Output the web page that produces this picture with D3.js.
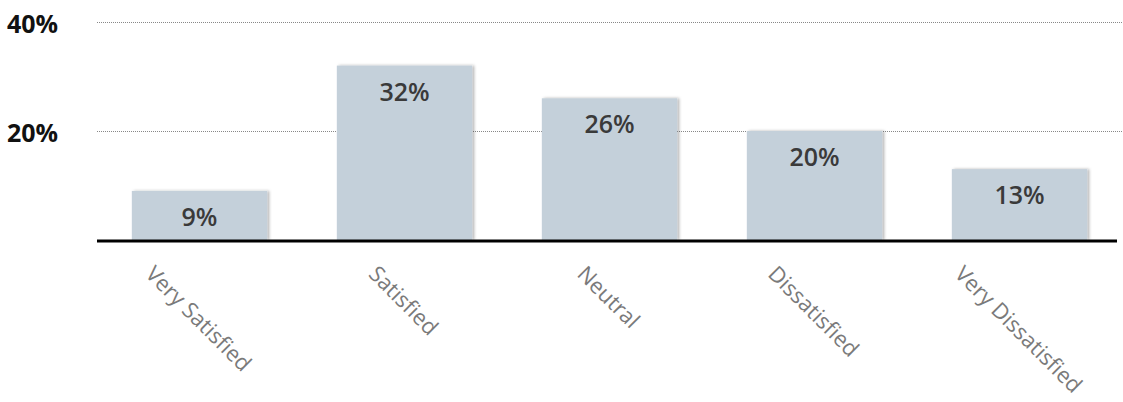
<!DOCTYPE html>
<html>
<head>
<meta charset="utf-8">
<script src="https://cdn.jsdelivr.net/npm/d3@7"></script>
<style>
  body { margin: 0; background: #fff; }
  svg { display: block; }
</style>
</head>
<body>
<div id="chart"></div>
<script>
// data
const categories = ["Very Satisfied", "Satisfied", "Neutral", "Dissatisfied", "Very Dissatisfied"];
const values = [9, 32, 26, 20, 13];
const yTicks = [20, 40];

const width = 1123, height = 402;
const baseY = 240;
const labelTop = 263;

const svg = d3.select("#chart")
    .append("svg")
    .attr("width", width)
    .attr("height", height);

const defs = svg.append("defs");
const shadow = defs.append("filter")
    .attr("id", "shadow")
    .attr("x", "-10%").attr("y", "-10%")
    .attr("width", "130%").attr("height", "130%");
shadow.append("feDropShadow")
    .attr("dx", 2).attr("dy", 0)
    .attr("stdDeviation", 1.5)
    .attr("flood-color", "#000")
    .attr("flood-opacity", 0.3);

const x = d3.scaleBand()
    .domain(categories)
    .range([97, 1122])
    .paddingInner(0.34)
    .paddingOuter(0.17);

const y = d3.scaleLinear()
    .domain([0, 40])
    .range([baseY, 22]);

// gridlines
svg.append("g")
    .selectAll("line")
    .data(yTicks)
    .join("line")
    .attr("x1", 97)
    .attr("x2", width)
    .attr("y1", d => y(d) + 0.5)
    .attr("y2", d => y(d) + 0.5)
    .attr("stroke", "#888")
    .attr("stroke-width", 1)
    .attr("stroke-dasharray", "1,1");

// y tick labels
svg.append("g")
    .selectAll("text")
    .data(yTicks)
    .join("text")
    .attr("x", 7)
    .attr("y", d => y(d) + 11)
    .attr("font-family", "'Open Sans', sans-serif")
    .attr("font-weight", 700)
    .attr("font-size", 25)
    .attr("fill", "#111")
    .text(d => d + "%");

// bars
svg.append("g")
    .selectAll("rect")
    .data(values)
    .join("rect")
    .attr("x", (d, i) => x(categories[i]))
    .attr("y", d => y(d))
    .attr("width", x.bandwidth())
    .attr("height", d => baseY - y(d))
    .attr("fill", "#c4d0da")
    .attr("filter", "url(#shadow)");

// value labels
svg.append("g")
    .selectAll("text")
    .data(values)
    .join("text")
    .attr("x", (d, i) => x(categories[i]) + x.bandwidth() / 2)
    .attr("y", d => y(d) + 35)
    .attr("text-anchor", "middle")
    .attr("font-family", "'Open Sans', sans-serif")
    .attr("font-weight", 600)
    .attr("font-size", 25)
    .attr("fill", "#3a3a3a")
    .text(d => d + "%");

// baseline
svg.append("line")
    .attr("x1", 97)
    .attr("x2", 1117)
    .attr("y1", baseY + 1)
    .attr("y2", baseY + 1)
    .attr("stroke", "#000")
    .attr("stroke-width", 3);

// category labels, rotated box centred under each bar
const fs = 22;
svg.append("g")
    .selectAll("text")
    .data(categories)
    .join("text")
    .attr("text-anchor", "middle")
    .attr("dominant-baseline", "central")
    .attr("font-family", "'Open Sans', sans-serif")
    .attr("font-weight", 400)
    .attr("font-size", fs)
    .attr("fill", "#7a7a7a")
    .text(d => d)
    .attr("transform", function(d) {
        const len = this.getComputedTextLength();
        const half = (len + fs * 0.75) * Math.SQRT1_2 / 2;
        return `translate(${x(d) + x.bandwidth() / 2},${labelTop + half}) rotate(45)`;
    });
</script>
</body>
</html>
